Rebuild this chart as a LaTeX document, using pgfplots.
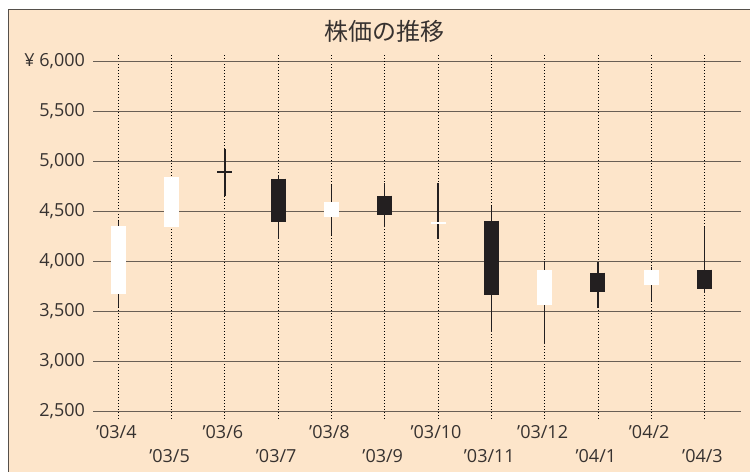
\documentclass[border=0pt]{standalone}
\usepackage{fontspec}
\setmainfont{Noto Sans CJK JP}
\newfontfamily\latinfont{Open Sans}
\usepackage{pgfplots}
\pgfplotsset{compat=1.18}

\definecolor{peach}{RGB}{253,229,202}
\definecolor{candle}{RGB}{35,31,32}
\definecolor{gridc}{RGB}{105,95,85}
\definecolor{framec}{RGB}{85,80,75}
\definecolor{labelc}{RGB}{55,50,48}

\begin{document}
\begin{tikzpicture}[x=1bp,y=1bp]
\path[use as bounding box] (0,0) rectangle (750,472);
\fill[white] (0,0) rectangle (750,472);
\fill[peach] (8.3,-10) rectangle (760,462.7);
\draw[framec, line width=1.5bp] (8.3,-10) -- (8.3,462.7) -- (760,462.7);

\node[labelc, font=\fontsize{24bp}{28bp}\selectfont] at (384,441) {株価の推移};

\begin{axis}[
    at={(93bp,53bp)}, anchor=south west,
    scale only axis,
    width=647.7bp, height=364.3bp,
    xmin=-0.475, xmax=11.68,
    ymin=2425, ymax=6065,
    axis line style={draw=none},
    major tick length=0pt,
    ytick={2500,3000,3500,4000,4500,5000,5500,6000},
    yticklabels={{2,500},{3,000},{3,500},{4,000},{4,500},{5,000},{5,500},{¥ 6,000}},
    xtick={0,2,4,6,8,10},
    xticklabels={’03/4,’03/6,’03/8,’03/10,’03/12,’04/2},
    extra x ticks={1,3,5,7,9,11},
    extra x tick labels={’03/5,’03/7,’03/9,’03/11,’04/1,’04/3},
    extra x tick style={grid=major, xticklabel style={yshift=-23.5bp}},
    grid=major,
    y grid style={gridc, line width=1.2bp},
    x grid style={black, line width=0.8bp, dash pattern=on 0.8bp off 2.2bp},
    tick label style={labelc, font=\latinfont\fontsize{18bp}{20bp}\selectfont},
    yticklabel style={anchor=east, xshift=-4.5bp},
    xticklabel style={anchor=north, yshift=-3bp, xshift=-2bp},
    unbounded coords=jump,
]
% wicks (low -- high)
\addplot[candle, line width=1.3bp, mark=none] coordinates {
  (0,3547) (0,4400) (0,nan)
  (2,4657) (2,5127) (2,nan)
  (3,4223) (3,4867) (3,nan)
  (4,4260) (4,4767) (4,nan)
  (5,4340) (5,4783) (5,nan)
  (6,4223) (6,4783) (6,nan)
  (7,3297) (7,4557) (7,nan)
  (8,3170) (8,4000) (8,nan)
  (9,3533) (9,3990) (9,nan)
  (10,3600) (10,3943) (10,nan)
  (11,3683) (11,4340)
};
% rising months (open -- close), white bodies
\addplot[white, line width=15bp, line cap=butt, mark=none] coordinates {
  (0,3670) (0,4357) (0,nan)
  (1,4347) (1,4847) (1,nan)
  (4,4440) (4,4597) (4,nan)
  (6,4372) (6,4398) (6,nan)
  (8,3560) (8,3917) (8,nan)
  (10,3760) (10,3917)
};
% falling months (open -- close), dark bodies
\addplot[candle, line width=15bp, line cap=butt, mark=none] coordinates {
  (2,4900) (2,4887) (2,nan)
  (3,4827) (3,4390) (3,nan)
  (5,4657) (5,4467) (5,nan)
  (7,4407) (7,3660) (7,nan)
  (9,3887) (9,3690) (9,nan)
  (11,3917) (11,3720)
};
\end{axis}
\end{tikzpicture}
\end{document}
